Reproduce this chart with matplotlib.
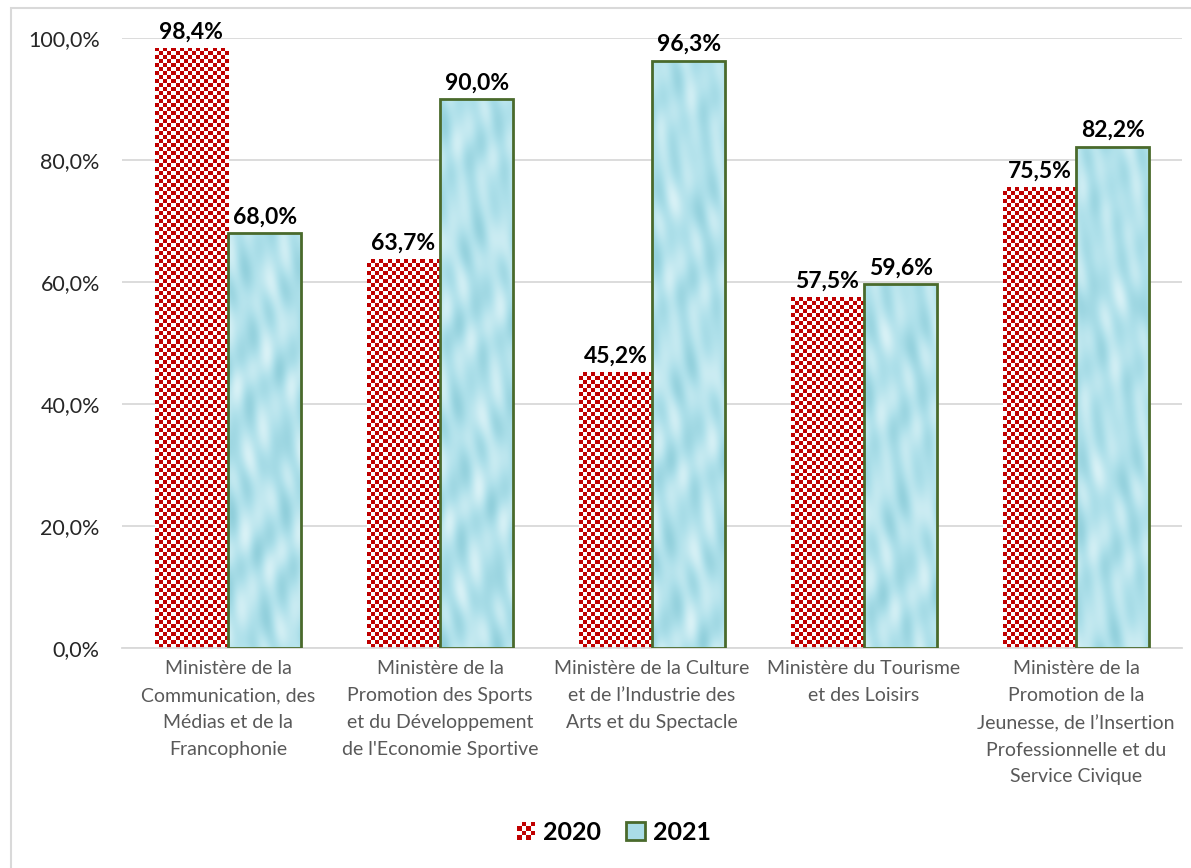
import matplotlib.pyplot as plt
import numpy as np
from matplotlib.patches import Rectangle
from matplotlib.legend_handler import HandlerBase
from matplotlib.colors import LinearSegmentedColormap

categories = [
    "Ministère de la\nCommunication, des\nMédias et de la\nFrancophonie",
    "Ministère de la\nPromotion des Sports\net du Développement\nde l'Economie Sportive",
    "Ministère de la Culture\net de l\u2019Industrie des\nArts et du Spectacle",
    "Ministère du Tourisme\net des Loisirs",
    "Ministère de la\nPromotion de la\nJeunesse, de l\u2019Insertion\nProfessionnelle et du\nService Civique",
]
v2020 = [98.4, 63.7, 45.2, 57.5, 75.5]
v2021 = [68.0, 90.0, 96.3, 59.6, 82.2]
yticks = [0, 20, 40, 60, 80, 100]

plt.rcParams['font.family'] = ['Lato', 'DejaVu Sans']

W, H = 1191, 868
fig = plt.figure(figsize=(W / 100, H / 100), dpi=100)
ax = fig.add_axes([122 / W, 1 - 648 / H, 1060 / W, 610 / H])

# figure border
fig.patches.append(Rectangle((11 / W, -0.1), 1.2, 1 - 8 / H + 0.1, transform=fig.transFigure,
                             fill=False, edgecolor='#d9d9d9', linewidth=1.5))

x = np.arange(len(categories))
bw = 0.345

red = '#c00000'
water = LinearSegmentedColormap.from_list('water', ['#86c9d6', '#aee0ea', '#dcf3f7'])

bars1 = ax.bar(x - bw / 2, v2020, bw, color='none', edgecolor='none', zorder=2)
bars2 = ax.bar(x + bw / 2, v2021, bw, facecolor='none', edgecolor='#4a6a2c', linewidth=2, zorder=3)

# checker texture for 2020 (cells about 4 px)
px_x = 1060 / 5.0  # px per category
px_y = 610 / 100.0  # px per unit
for b in bars1:
    bx, by, bwid, bh = b.get_x(), b.get_y(), b.get_width(), b.get_height()
    nx = int(round(bwid * px_x / 4))
    ny = int(round(bh * px_y / 4))
    cb = (np.add.outer(np.arange(ny), np.arange(nx)) % 2).astype(float)
    img = np.ones((ny, nx, 3))
    img[cb == 1] = [0.75, 0.0, 0.0]
    im = ax.imshow(img, extent=[bx, bx + bwid, by, by + bh], origin='lower',
                   interpolation='nearest', aspect='auto', zorder=2)
    im.set_clip_path(b)

# water-like texture for 2021
for k, b in enumerate(bars2):
    bx, by, bwid, bh = b.get_x(), b.get_y(), b.get_width(), b.get_height()
    xx, yy = np.meshgrid(np.linspace(0, 6, 73), np.linspace(0, bh / 6, int(bh * 6)))
    yy = yy + k * 3.7
    tex = 0.55 + 0.22 * np.sin(xx * 2.1 + np.sin(yy * 1.3) * 2) * np.cos(yy * 1.7 + xx * 0.6) \
        + 0.12 * np.sin(yy * 3.1 - xx * 1.4) + 0.08 * np.cos(xx * 4.3 + yy * 2.2)
    im = ax.imshow(tex, extent=[bx, bx + bwid, by, by + bh], origin='lower', cmap=water,
                   vmin=0, vmax=1, interpolation='bilinear', aspect='auto', zorder=2.5)
    im.set_clip_path(b)

for b, v in list(zip(bars1, v2020)) + list(zip(bars2, v2021)):
    ax.text(b.get_x() + b.get_width() / 2, v + 0.9, f"{v:.1f}%".replace('.', ','),
            ha='center', va='bottom', fontsize=16.5, fontweight='bold', color='black', zorder=5)

ax.set_xlim(-0.5, len(categories) - 0.5)
ax.set_ylim(0, 100)
ax.set_yticks(yticks)
ax.set_yticklabels([f"{t:.1f}%".replace('.', ',') for t in yticks], fontsize=15.5, color='#262626')
ax.set_xticks(x)
ax.set_xticklabels(categories, fontsize=14, color='#595959', linespacing=1.7, va='top')
ax.tick_params(axis='both', length=0)
ax.tick_params(axis='y', pad=16)
ax.tick_params(axis='x', pad=9)
ax.grid(axis='y', color='#d9d9d9', linewidth=1.3, zorder=0)
ax.set_axisbelow(True)
for s in ['top', 'right', 'left']:
    ax.spines[s].set_visible(False)
ax.spines['bottom'].set_color('#d9d9d9')
ax.spines['bottom'].set_linewidth(1.3)


class CheckerHandler(HandlerBase):
    def create_artists(self, legend, orig, xd, yd, width, height, fontsize, trans):
        arts = []
        n = 4
        s = height / n
        x0 = xd + (width - height) / 2
        for i in range(n):
            for j in range(n):
                c = red if (i + j) % 2 == 0 else 'white'
                arts.append(Rectangle((-x0 + j * s, -yd + i * s), s, s, facecolor=c,
                                      edgecolor='none', transform=trans))
        return arts


class WaterHandler(HandlerBase):
    def create_artists(self, legend, orig, xd, yd, width, height, fontsize, trans):
        x0 = xd + (width - height) / 2
        r = Rectangle((-x0, -yd), height, height, facecolor='#aadde7', edgecolor='#4a6a2c',
                      linewidth=2, transform=trans)
        return [r]


h1 = Rectangle((0, 0), 1, 1)
h2 = Rectangle((0, 0), 1, 1)
leg = fig.legend([h1, h2], ['2020', '2021'], loc='center', bbox_to_anchor=(614 / W, 1 - 832 / H),
                 ncol=2, frameon=False, handler_map={h1: CheckerHandler(), h2: WaterHandler()},
                 prop={'weight': 'bold', 'size': 18}, handlelength=0.75, handleheight=0.75,
                 handletextpad=0.3, columnspacing=1.0)

fig.savefig('out.png', dpi=100)
